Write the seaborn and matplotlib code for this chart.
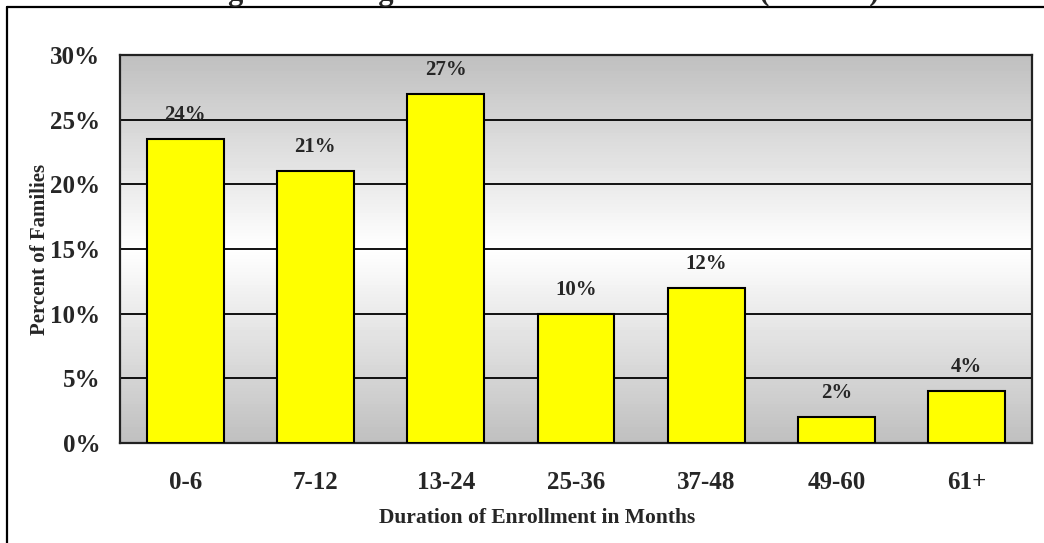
import numpy as np
import pandas as pd
import matplotlib
matplotlib.use("Agg")
import matplotlib.pyplot as plt
import seaborn as sns
from matplotlib.lines import Line2D

# data
durations = ["0-6", "7-12", "13-24", "25-36", "37-48", "49-60", "61+"]
pct_families = [23.5, 21.0, 27.0, 10.0, 12.0, 2.0, 4.0]
bar_labels = ["24%", "21%", "27%", "10%", "12%", "2%", "4%"]
y_ticks = [0, 5, 10, 15, 20, 25, 30]

df = pd.DataFrame({"duration": durations, "pct": pct_families})

sns.set_style("white")
plt.rcParams["font.family"] = ["Liberation Serif", "DejaVu Serif"]
plt.rcParams["font.weight"] = "bold"

W, H = 1044, 543
fig = plt.figure(figsize=(W / 100, H / 100), dpi=100)
ax = fig.add_axes([120 / W, 1 - 443 / H, (1032 - 120) / W, (443 - 55) / H])

# grey-white-grey background band
grad = np.concatenate([np.linspace(0.75, 1.0, 60), np.linspace(1.0, 0.75, 60)])[:, None]
ax.imshow(grad, cmap="gray", vmin=0, vmax=1, aspect="auto",
          extent=(-0.5, len(durations) - 0.5, 0, 30), zorder=0, origin="upper")

sns.barplot(data=df, x="duration", y="pct", color="#ffff00", edgecolor="black",
            linewidth=1.5, width=0.59, saturation=1, ax=ax, zorder=3)

for i, (v, lab) in enumerate(zip(pct_families, bar_labels)):
    ax.text(i, v + 1.85, lab, ha="center", va="center", fontsize=15,
            fontweight="bold", zorder=4)

ax.set_xlim(-0.5, len(durations) - 0.5)
ax.set_ylim(0, 30)
ax.set_yticks(y_ticks)
ax.set_yticklabels([f"{t}%" for t in y_ticks])
for t in y_ticks[1:-1]:
    ax.axhline(t, color="black", lw=1.3, zorder=1)

ax.tick_params(axis="y", length=0, pad=14, labelsize=18)
ax.tick_params(axis="x", length=0, pad=20, labelsize=18)
for lab in ax.get_xticklabels() + ax.get_yticklabels():
    lab.set_fontweight("bold")

ax.set_xlabel("Duration of Enrollment in Months", fontsize=15.5, fontweight="bold")
ax.xaxis.set_label_coords((537 - 120) / 912, -0.168)
ax.set_ylabel("Percent of Families", fontsize=15, fontweight="bold", labelpad=0)

for s in ax.spines.values():
    s.set_visible(True)
    s.set_color("#222222")
    s.set_linewidth(1.6)

# title mostly cut off at the top, as in the source
fig.text(540 / W, 1.0, "Figure 3: Length of Enrollment in Months (Percent)",
         ha="center", va="baseline", fontsize=22, fontweight="bold")

# outer frame
fig.add_artist(Line2D([7 / W, 1.0], [1 - 7 / H, 1 - 7 / H], color="black", lw=1.6))
fig.add_artist(Line2D([7 / W, 7 / W], [0, 1 - 7 / H], color="black", lw=1.6))

fig.savefig("out.png", dpi=100)
